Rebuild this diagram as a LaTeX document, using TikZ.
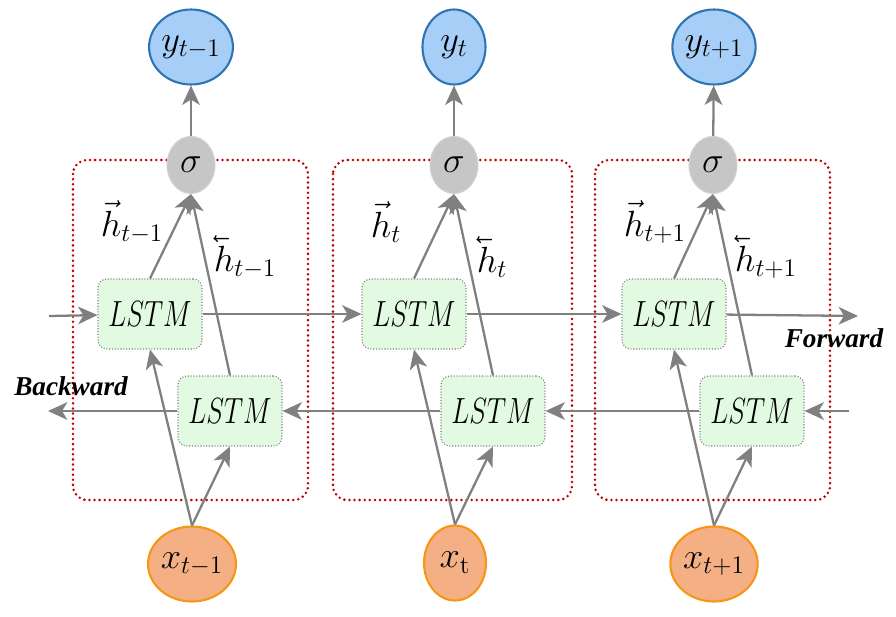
\documentclass[tikz,border=0pt]{standalone}
\usepackage{amsmath}
\usepackage{fontspec}
\newfontfamily\labelfont{Liberation Serif}
\usepackage{tikz}
\usetikzlibrary{arrows.meta}
\usetikzlibrary{shapes.geometric}

\definecolor{outblue}{RGB}{166,206,246}
\definecolor{outedge}{RGB}{46,117,182}
\definecolor{inorange}{RGB}{244,176,132}
\definecolor{inedge}{RGB}{247,150,20}
\definecolor{cellgreen}{RGB}{226,250,226}
\definecolor{framered}{RGB}{192,0,0}
\definecolor{wiregray}{RGB}{128,128,128}

\newcommand{\fwdh}{\vec{h}}
\newcommand{\bwdh}{\mathord{\reflectbox{$\vec{\reflectbox{$h$}}$}}}
\newcommand{\lstm}{\scalebox{0.74}[1]{$LSTM$}}

\tikzset{
  outnode/.style={ellipse, draw=outedge, fill=outblue, line width=1.2pt,
    minimum width=1.26cm, minimum height=1.5cm, inner sep=0pt, font=\huge},
  innode/.style={ellipse, draw=inedge, fill=inorange, line width=1.2pt,
    minimum width=1.24cm, minimum height=1.5cm, inner sep=0pt, font=\huge},
  signode/.style={ellipse, draw=gray!35, fill=gray!45, line width=0.6pt,
    minimum width=0.96cm, minimum height=1.14cm, inner sep=0pt, font=\huge},
  cellbox/.style={draw=gray, densely dotted, fill=cellgreen, rounded corners=5pt,
    line width=0.6pt, minimum width=2.08cm, minimum height=1.4cm, font=\huge},
  frame/.style={draw=framered, line width=1.6pt, line cap=round,
    dash pattern=on 0pt off 2.9pt, rounded corners=8pt},
  wire/.style={draw=wiregray, line width=1.3pt, -{Stealth[length=11pt,width=10pt,inset=3pt]}},
  hlabel/.style={font=\huge, inner sep=1pt},
  dirlabel/.style={font=\labelfont\fontsize{15.5}{18}\selectfont\bfseries\itshape}
}

\begin{document}
\begin{tikzpicture}[x=0.02cm,y=-0.02cm]
  \useasboundingbox (0,0) rectangle (896,616);

  % dotted frames round each time step
  \draw[frame] (73,160) rectangle (308,500);
  \draw[frame] (333,160) rectangle (572,500);
  \draw[frame] (595,160) rectangle (830,500);

  % outputs
  \node[outnode] (y1) at (191,47) {$y_{t-1}$};
  \node[outnode] (y2) at (454,47) {$y_{t}$};
  \node[outnode] (y3) at (714,47) {$y_{t+1}$};

  \node[signode] (s1) at (191,165) {$\sigma$};
  \node[signode] (s2) at (454,165) {$\sigma$};
  \node[signode] (s3) at (713,165) {$\sigma$};

  % forward and backward cells
  \node[cellbox] (f1) at (150,314) {\lstm};
  \node[cellbox] (f2) at (414,314) {\lstm};
  \node[cellbox] (f3) at (674,314) {\lstm};
  \node[cellbox] (b1) at (230,411) {\lstm};
  \node[cellbox] (b2) at (493,411) {\lstm};
  \node[cellbox] (b3) at (752,411) {\lstm};

  % inputs
  \node[innode] (x1) at (192,564) {$x_{t-1}$};
  \node[innode] (x2) at (455,563) {$x_{\mathrm{t}}$};
  \node[innode] (x3) at (714,564) {$x_{t+1}$};

  \coordinate (fin) at (49,316);
  \coordinate (fout) at (858,316);
  \coordinate (bin) at (849,411);
  \coordinate (bout) at (48,411);

  \draw[wire] (fin) -- (f1);
  \draw[wire] (f1) -- (f2);
  \draw[wire] (f2) -- (f3);
  \draw[wire] (f3) -- (fout);
  \draw[wire] (bin) -- (b3);
  \draw[wire] (b3) -- (b2);
  \draw[wire] (b2) -- (b1);
  \draw[wire] (b1) -- (bout);

  \draw[wire] (x1.north) -- (f1.south);
  \draw[wire] (x1.north) -- (b1.south);
  \draw[wire] (x2.north) -- (f2.south);
  \draw[wire] (x2.north) -- (b2.south);
  \draw[wire] (x3.north) -- (f3.south);
  \draw[wire] (x3.north) -- (b3.south);

  \draw[wire] (f1.north) -- (s1.south);
  \draw[wire] (b1.north) -- (s1.south);
  \draw[wire] (f2.north) -- (s2.south);
  \draw[wire] (b2.north) -- (s2.south);
  \draw[wire] (f3.north) -- (s3.south);
  \draw[wire] (b3.north) -- (s3.south);

  \draw[wire] (s1) -- (y1);
  \draw[wire] (s2) -- (y2);
  \draw[wire] (s3) -- (y3);

  % hidden state labels
  \node[hlabel] (hf1) at (132,222) {$\fwdh_{t-1}$};
  \node[hlabel] (hb1) at (245,257) {$\bwdh_{t-1}$};
  \node[hlabel] (hf2) at (386,222) {$\fwdh_{t}$};
  \node[hlabel] (hb2) at (492,257) {$\bwdh_{t}$};
  \node[hlabel] (hf3) at (655,222) {$\fwdh_{t+1}$};
  \node[hlabel] (hb3) at (766,257) {$\bwdh_{t+1}$};

  \node[dirlabel] (fwd) at (834,338) {Forward};
  \node[dirlabel] (bwd) at (71,386) {Backward};
\end{tikzpicture}
\end{document}
